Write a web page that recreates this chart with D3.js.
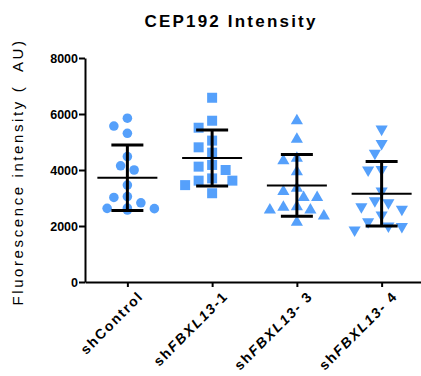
<!DOCTYPE html>
<html>
<head>
<meta charset="utf-8">
<script src="https://cdn.jsdelivr.net/npm/d3@7"></script>
<style>
  body { margin: 0; background: #fff; }
  svg { display: block; font-family: "Liberation Sans", Arial, sans-serif; }
</style>
</head>
<body>
<div id="chart"></div>
<script>
// values (AU)
const categories = ["shControl", "shFBXL13-1", "shFBXL13-3", "shFBXL13-4"];
const shControl = [5850, 5570, 5310, 4480, 4150, 4000, 3460, 3050, 3020, 2830, 2630, 2570, 2640, 2620];
const shFBXL13_1 = [6580, 5760, 5510, 5050, 4810, 4620, 4180, 4000, 4120, 3620, 3700, 3620, 3460, 3170];
const shFBXL13_3 = [5760, 5100, 4330, 4420, 3940, 3350, 3230, 3020, 3020, 2690, 2570, 2670, 2570, 2360, 2130];
const shFBXL13_4 = [5460, 4950, 4600, 4020, 4000, 3250, 2900, 2830, 2690, 2600, 2390, 2150, 2000, 1860, 1980];
const means = [3720, 4430, 3450, 3150];
const sds = [1170, 1000, 1100, 1150];
const yTicks = [0, 2000, 4000, 6000, 8000];

const series = [shControl, shFBXL13_1, shFBXL13_3, shFBXL13_4];
const symbols = [d3.symbolCircle, d3.symbolSquare, d3.symbolTriangle, d3.symbolTriangle];
const symSizes = [72, 100, 64, 64];
const blue = "#55a0fb";

const width = 421, height = 376;
const svg = d3.select("#chart").append("svg")
  .attr("width", width)
  .attr("height", height);

const x = d3.scalePoint()
  .domain(categories)
  .range([85, 424])
  .padding(0.5);

const y = d3.scaleLinear()
  .domain([0, 8000])
  .range([282, 58]);

// title
svg.append("text")
  .attr("x", 231)
  .attr("y", 27)
  .attr("text-anchor", "middle")
  .style("font-size", "17px")
  .style("font-weight", "bold")
  .style("letter-spacing", "2.2px")
  .text("CEP192 Intensity");

// y axis label
svg.append("text")
  .attr("transform", "rotate(-90)")
  .attr("x", -172)
  .attr("y", 23)
  .attr("text-anchor", "middle")
  .style("font-size", "15px")
  .style("letter-spacing", "2.6px")
  .style("white-space", "pre")
  .text("Fluorescence intensity (  AU)");

// y axis
svg.append("g")
  .attr("transform", "translate(85,0)")
  .call(d3.axisLeft(y).tickValues(yTicks).tickFormat(d3.format("d")).tickSize(6).tickSizeOuter(0).tickPadding(1))
  .call(g => g.select(".domain").attr("stroke-width", 2))
  .call(g => g.selectAll(".tick line").attr("stroke-width", 2))
  .call(g => g.selectAll("text").style("font-size", "12.5px").style("font-weight", "bold").attr("fill", "#000"));

// x axis
svg.append("g")
  .attr("transform", "translate(0,282)")
  .call(d3.axisBottom(x).tickSize(5).tickSizeOuter(0).tickFormat(""))
  .call(g => g.select(".domain").attr("stroke-width", 2))
  .call(g => g.selectAll(".tick line").attr("stroke-width", 2));

// rotated category labels, FBXL13 in italics
categories.forEach(c => {
  const t = svg.append("text")
    .attr("transform", `translate(${x(c) + 17},${297}) rotate(-45)`)
    .attr("text-anchor", "end")
    .style("font-size", "14px")
    .style("font-weight", "bold")
    .style("letter-spacing", "1.8px")
    .style("white-space", "pre");
  const m = c.match(/^sh(FBXL13)-(\d)$/);
  if (m) {
    t.append("tspan").text("sh");
    t.append("tspan").style("font-style", "italic").text(m[1]);
    t.append("tspan").text(m[2] === "1" ? "-1" : "- " + m[2]);
  } else {
    t.text(c);
  }
});

// scatter arrangement: stack points into columns so markers do not overlap
const colStep = 6.75, minDist = 11;
function arrange(vals) {
  const placed = [];
  const sorted = vals.map(v => ({ v, py: y(v) })).sort((a, b) => a.py - b.py);
  const order = [0, -1, 1, -2, 2, -3, 3, -4, 4];
  sorted.forEach(p => {
    for (const k of order) {
      const ok = placed.every(q => {
        const dx = (k - q.k) * colStep, dy = p.py - q.py;
        return dx * dx + dy * dy >= minDist * minDist;
      });
      if (ok) { p.k = k; break; }
    }
    if (p.k === undefined) p.k = 0;
    placed.push(p);
  });
  return placed;
}

series.forEach((vals, i) => {
  const cx = x(categories[i]);
  const pts = arrange(vals);
  const sym = d3.symbol().type(symbols[i]).size(symSizes[i]);
  svg.append("g").selectAll("path")
    .data(pts)
    .enter().append("path")
    .attr("d", sym)
    .attr("transform", d => `translate(${cx + d.k * colStep},${d.py})${i === 3 ? " rotate(180)" : ""}`)
    .attr("fill", blue);
});

// mean and SD bars
const bars = svg.append("g").attr("stroke", "#000");
categories.forEach((c, i) => {
  const cx = x(c);
  const top = y(means[i] + sds[i]), bot = y(means[i] - sds[i]), mid = y(means[i]);
  bars.append("line").attr("x1", cx).attr("x2", cx).attr("y1", top).attr("y2", bot).attr("stroke-width", 3);
  bars.append("line").attr("x1", cx - 16).attr("x2", cx + 16).attr("y1", top).attr("y2", top).attr("stroke-width", 3);
  bars.append("line").attr("x1", cx - 16).attr("x2", cx + 16).attr("y1", bot).attr("y2", bot).attr("stroke-width", 3);
  bars.append("line").attr("x1", cx - 30).attr("x2", cx + 30).attr("y1", mid).attr("y2", mid).attr("stroke-width", 2);
});
</script>
</body>
</html>
